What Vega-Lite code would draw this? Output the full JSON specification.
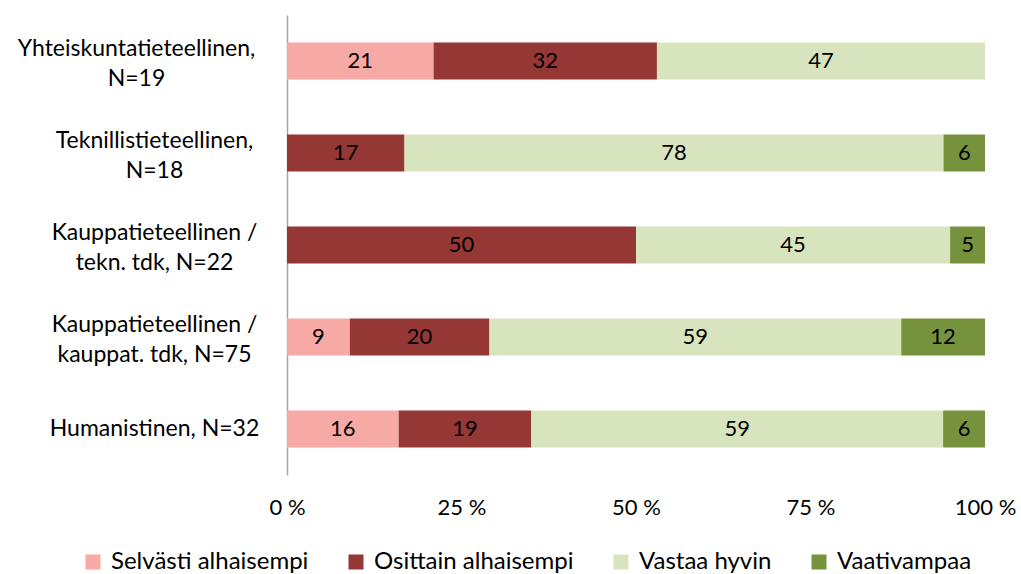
{
  "$schema": "https://vega.github.io/schema/vega-lite/v6.json",
  "autosize": "none",
  "width": 698,
  "height": 460,
  "padding": {"left": 287, "top": 15, "right": 36, "bottom": 99},
  "background": "white",
  "config": {
    "view": {"stroke": null},
    "font": "Lato",
    "axis": {"labelFont": "Lato", "labelColor": "#000000", "grid": false}
  },
  "data": {
    "values": [
      {"cat": "Yhteiskuntatieteellinen,|N=19", "idx": 1, "group": "Selvästi alhaisempi", "ord": 1, "value": 21},
      {"cat": "Yhteiskuntatieteellinen,|N=19", "idx": 1, "group": "Osittain alhaisempi", "ord": 2, "value": 32},
      {"cat": "Yhteiskuntatieteellinen,|N=19", "idx": 1, "group": "Vastaa hyvin", "ord": 3, "value": 47},
      {"cat": "Teknillistieteellinen,|N=18", "idx": 2, "group": "Osittain alhaisempi", "ord": 2, "value": 17},
      {"cat": "Teknillistieteellinen,|N=18", "idx": 2, "group": "Vastaa hyvin", "ord": 3, "value": 78},
      {"cat": "Teknillistieteellinen,|N=18", "idx": 2, "group": "Vaativampaa", "ord": 4, "value": 6},
      {"cat": "Kauppatieteellinen /|tekn. tdk, N=22", "idx": 3, "group": "Osittain alhaisempi", "ord": 2, "value": 50},
      {"cat": "Kauppatieteellinen /|tekn. tdk, N=22", "idx": 3, "group": "Vastaa hyvin", "ord": 3, "value": 45},
      {"cat": "Kauppatieteellinen /|tekn. tdk, N=22", "idx": 3, "group": "Vaativampaa", "ord": 4, "value": 5},
      {"cat": "Kauppatieteellinen /|kauppat. tdk, N=75", "idx": 4, "group": "Selvästi alhaisempi", "ord": 1, "value": 9},
      {"cat": "Kauppatieteellinen /|kauppat. tdk, N=75", "idx": 4, "group": "Osittain alhaisempi", "ord": 2, "value": 20},
      {"cat": "Kauppatieteellinen /|kauppat. tdk, N=75", "idx": 4, "group": "Vastaa hyvin", "ord": 3, "value": 59},
      {"cat": "Kauppatieteellinen /|kauppat. tdk, N=75", "idx": 4, "group": "Vaativampaa", "ord": 4, "value": 12},
      {"cat": "Humanistinen, N=32", "idx": 5, "group": "Selvästi alhaisempi", "ord": 1, "value": 16},
      {"cat": "Humanistinen, N=32", "idx": 5, "group": "Osittain alhaisempi", "ord": 2, "value": 19},
      {"cat": "Humanistinen, N=32", "idx": 5, "group": "Vastaa hyvin", "ord": 3, "value": 59},
      {"cat": "Humanistinen, N=32", "idx": 5, "group": "Vaativampaa", "ord": 4, "value": 6}
    ]
  },
  "encoding": {
    "y": {
      "field": "cat",
      "type": "nominal",
      "sort": {"field": "idx", "op": "min", "order": "ascending"},
      "scale": {"paddingInner": 0.6, "paddingOuter": 0.3},
      "axis": {
        "title": null,
        "labelExpr": "split(datum.label, '|')",
        "labelAlign": "center",
        "labelFontSize": 23,
        "labelLimit": 400,
        "labelPadding": {"condition": {"test": "indexof(datum.value, 'Yhteis') == 0", "value": 151}, "value": 133},
        "labelOffset": {"condition": {"test": "indexof(datum.value, '|') >= 0", "value": -12}, "value": 0},
        "labelLineHeight": 30,
        "ticks": false,
        "domainColor": "#a6a6a6",
        "domainWidth": 1.5
      }
    },
    "x": {
      "field": "value",
      "type": "quantitative",
      "stack": "normalize",
      "scale": {"domain": [0, 1]},
      "axis": {
        "title": null,
        "values": [0, 0.25, 0.5, 0.75, 1],
        "labelExpr": "round(datum.value * 100) + ' %'",
        "labelFontSize": 22,
        "domain": false,
        "ticks": false,
        "labelPadding": 22,
        "labelFlush": false
      }
    },
    "order": {"field": "ord", "type": "quantitative"}
  },
  "layer": [
    {
      "mark": {"type": "bar"},
      "encoding": {
        "color": {
          "field": "group",
          "type": "nominal",
          "sort": ["Selvästi alhaisempi", "Osittain alhaisempi", "Vastaa hyvin", "Vaativampaa"],
          "scale": {
            "domain": ["Selvästi alhaisempi", "Osittain alhaisempi", "Vastaa hyvin", "Vaativampaa"],
            "range": ["#F7A9A5", "#953735", "#D7E4BD", "#76923C"]
          },
          "legend": {
            "title": null,
            "orient": "none",
            "direction": "horizontal",
            "legendX": -206,
            "legendY": 535,
            "symbolType": "square",
            "symbolSize": 225,
            "symbolStrokeWidth": 0,
            "labelFont": "Lato",
            "labelFontSize": 24,
            "labelColor": "#000000",
            "columnPadding": 35,
            "labelOffset": 6,
            "labelLimit": 400
          }
        }
      }
    },
    {
      "mark": {"type": "text", "font": "Lato", "fontSize": 22, "color": "#000000"},
      "encoding": {
        "x": {
          "field": "value",
          "type": "quantitative",
          "stack": "normalize",
          "bandPosition": 0.5
        },
        "text": {"field": "value", "type": "quantitative"}
      }
    }
  ]
}
